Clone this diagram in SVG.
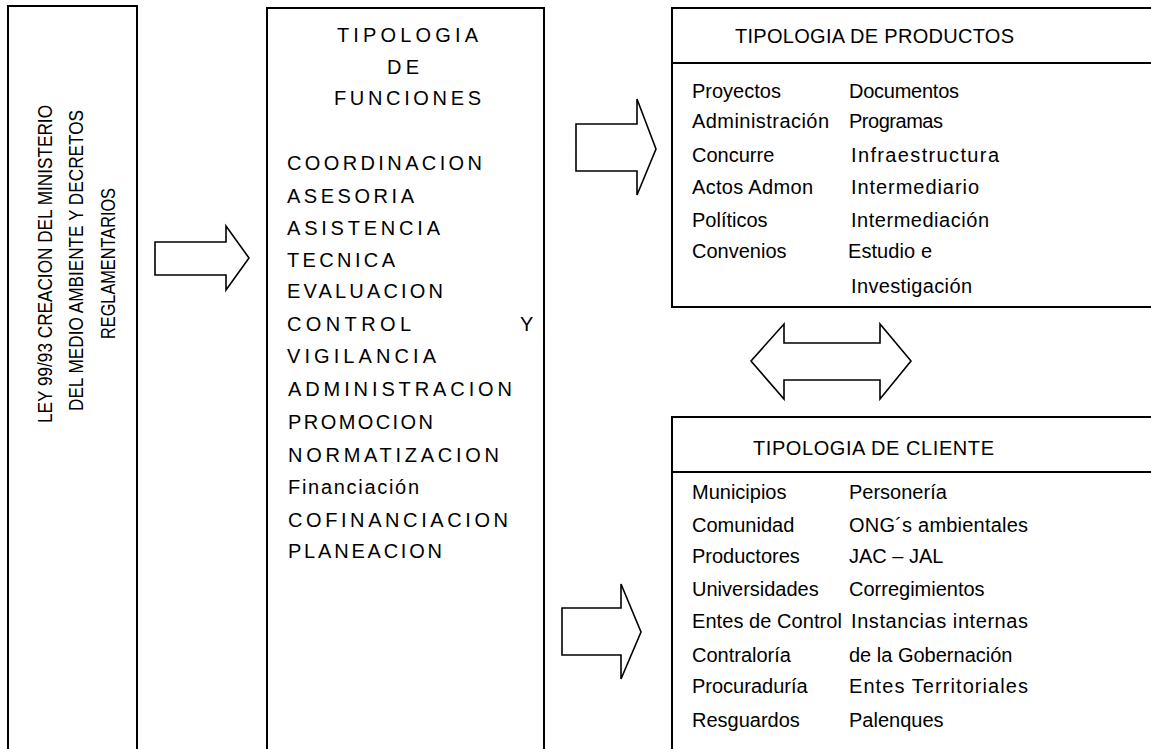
<svg xmlns="http://www.w3.org/2000/svg" width="1151" height="749" viewBox="0 0 1151 749">
<style>
.box{fill:#fff;stroke:#000;stroke-width:2}
.ln{stroke:#000;stroke-width:2}
.arr{fill:#fff;stroke:#000;stroke-width:1.6;stroke-linejoin:miter}
text{font-family:"Liberation Sans",Arial,sans-serif;font-size:20px;fill:#000}
.c{text-anchor:start}
</style>
<rect width="1151" height="749" fill="#fff"/>
<g id="ley">
<rect class="box" x="8" y="6" width="129" height="760"/>
<g transform="translate(52,264) rotate(-90)"><text x="-159" y="0" textLength="318" lengthAdjust="spacingAndGlyphs">LEY 99/93 CREACION DEL MINISTERIO</text></g>
<g transform="translate(83,261) rotate(-90)"><text x="-150" y="0" textLength="301" lengthAdjust="spacingAndGlyphs">DEL MEDIO AMBIENTE Y DECRETOS</text></g>
<g transform="translate(115,263) rotate(-90)"><text x="-76" y="0" textLength="151" lengthAdjust="spacingAndGlyphs">REGLAMENTARIOS</text></g>
</g>
<g id="funciones">
<rect class="box" x="267" y="8" width="277" height="760"/>
<text x="337" y="42" textLength="141" lengthAdjust="spacing">TIPOLOGIA</text>
<text x="387" y="74" textLength="32" lengthAdjust="spacing">DE</text>
<text x="334" y="105" textLength="147" lengthAdjust="spacing">FUNCIONES</text>
<text x="287" y="170" textLength="195" lengthAdjust="spacing">COORDINACION</text>
<text x="287" y="203" textLength="127" lengthAdjust="spacing">ASESORIA</text>
<text x="287" y="235" textLength="153" lengthAdjust="spacing">ASISTENCIA</text>
<text x="287" y="267" textLength="108" lengthAdjust="spacing">TECNICA</text>
<text x="287" y="298" textLength="156" lengthAdjust="spacing">EVALUACION</text>
<text x="287" y="331" textLength="124" lengthAdjust="spacing">CONTROL</text>
<text x="520" y="331">Y</text>
<text x="287" y="363" textLength="149" lengthAdjust="spacing">VIGILANCIA</text>
<text x="288" y="396" textLength="224" lengthAdjust="spacing">ADMINISTRACION</text>
<text x="288" y="429" textLength="145" lengthAdjust="spacing">PROMOCION</text>
<text x="288" y="462" textLength="211" lengthAdjust="spacing">NORMATIZACION</text>
<text x="288" y="494" textLength="131" lengthAdjust="spacing">Financiación</text>
<text x="288" y="527" textLength="220" lengthAdjust="spacing">COFINANCIACION</text>
<text x="288" y="558" textLength="154" lengthAdjust="spacing">PLANEACION</text>
</g>
<g id="productos">
<rect class="box" x="672" y="8" width="500" height="299"/>
<line class="ln" x1="672" y1="63" x2="1160" y2="63"/>
<text x="735" y="43" textLength="279" lengthAdjust="spacing">TIPOLOGIA DE PRODUCTOS</text>
<text x="692" y="98">Proyectos</text>
<text x="692" y="128" textLength="137" lengthAdjust="spacing">Administración</text>
<text x="692" y="162">Concurre</text>
<text x="692" y="194" textLength="121" lengthAdjust="spacing">Actos Admon</text>
<text x="692" y="227">Políticos</text>
<text x="692" y="258">Convenios</text>
<text x="849" y="98" textLength="110" lengthAdjust="spacing">Documentos</text>
<text x="849" y="128" textLength="94" lengthAdjust="spacing">Programas</text>
<text x="851" y="162" textLength="148" lengthAdjust="spacing">Infraestructura</text>
<text x="851" y="194" textLength="128" lengthAdjust="spacing">Intermediario</text>
<text x="851" y="227" textLength="138" lengthAdjust="spacing">Intermediación</text>
<text x="848" y="258" textLength="84" lengthAdjust="spacing">Estudio e</text>
<text x="851" y="293" textLength="121" lengthAdjust="spacing">Investigación</text>
</g>
<g id="cliente">
<rect class="box" x="672" y="417" width="500" height="360"/>
<line class="ln" x1="672" y1="472" x2="1160" y2="472"/>
<text x="753" y="455" textLength="241" lengthAdjust="spacing">TIPOLOGIA DE CLIENTE</text>
<text x="692" y="499">Municipios</text>
<text x="692" y="532">Comunidad</text>
<text x="692" y="563">Productores</text>
<text x="692" y="596">Universidades</text>
<text x="692" y="628" textLength="150" lengthAdjust="spacing">Entes de Control</text>
<text x="692" y="662">Contraloría</text>
<text x="692" y="693">Procuraduría</text>
<text x="692" y="727">Resguardos</text>
<text x="849" y="499">Personería</text>
<text x="849" y="532" textLength="179" lengthAdjust="spacing">ONG´s ambientales</text>
<text x="849" y="563">JAC – JAL</text>
<text x="849" y="596">Corregimientos</text>
<text x="851" y="628" textLength="177" lengthAdjust="spacing">Instancias internas</text>
<text x="849" y="662">de la Gobernación</text>
<text x="849" y="693" textLength="179" lengthAdjust="spacing">Entes Territoriales</text>
<text x="849" y="727">Palenques</text>
</g>
<g id="connectors">
<polygon class="arr" points="155,242 226,242 226,226 249,258 226,290 226,275 155,275"/>
<polygon class="arr" points="576,124 637,124 637,99 656,149 637,195 637,171 576,171"/>
<polygon class="arr" points="562,608 621,608 621,584 641,632 621,679 621,655 562,655"/>
<polygon class="arr" points="751,361 784,324 784,343 880,343 880,324 911,361 880,399 880,380 784,380 784,399"/>
</g>
</svg>
